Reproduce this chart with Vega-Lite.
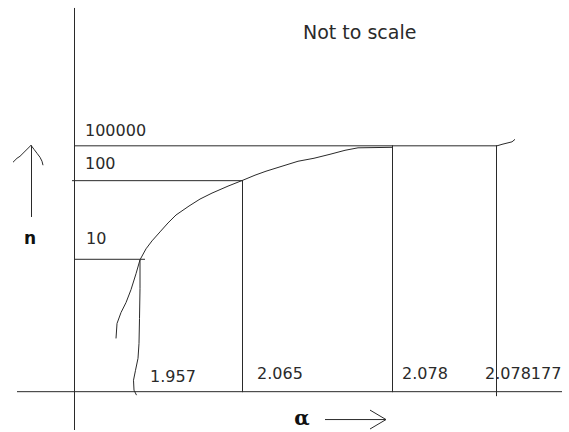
{
  "$schema": "https://vega.github.io/schema/vega-lite/v6.json",
  "width": 569,
  "height": 432,
  "padding": 0,
  "autosize": {"type": "fit", "contains": "padding"},
  "background": "white",
  "config": {"view": {"stroke": null}},
  "datasets": {
    "paths": [
      {"id": "yaxis", "i": 0, "x": 74.5, "y": 8},
      {"id": "yaxis", "i": 1, "x": 74.5, "y": 432},
      {"id": "xaxis", "i": 0, "x": 17, "y": 393.5},
      {"id": "xaxis", "i": 1, "x": 562, "y": 393.5},
      {"id": "h100000", "i": 0, "x": 74, "y": 146.5},
      {"id": "h100000", "i": 1, "x": 497, "y": 146.5},
      {"id": "h100000", "i": 2, "x": 502, "y": 145},
      {"id": "h100000", "i": 3, "x": 508, "y": 143.5},
      {"id": "h100000", "i": 4, "x": 512, "y": 142.5},
      {"id": "h100000", "i": 5, "x": 515, "y": 140},
      {"id": "h100", "i": 0, "x": 72, "y": 181.5},
      {"id": "h100", "i": 1, "x": 243, "y": 181.5},
      {"id": "h10", "i": 0, "x": 75, "y": 260.5},
      {"id": "h10", "i": 1, "x": 145, "y": 260.5},
      {"id": "v1957", "i": 0, "x": 140, "y": 261},
      {"id": "v1957", "i": 1, "x": 140, "y": 290},
      {"id": "v1957", "i": 2, "x": 139.5, "y": 320},
      {"id": "v1957", "i": 3, "x": 139, "y": 345},
      {"id": "v1957", "i": 4, "x": 138, "y": 360},
      {"id": "v1957", "i": 5, "x": 135.5, "y": 372},
      {"id": "v1957", "i": 6, "x": 133.5, "y": 382},
      {"id": "v1957", "i": 7, "x": 134, "y": 392},
      {"id": "v1957", "i": 8, "x": 136.5, "y": 397},
      {"id": "v2065", "i": 0, "x": 242.5, "y": 181},
      {"id": "v2065", "i": 1, "x": 242.5, "y": 394},
      {"id": "v2078", "i": 0, "x": 392.5, "y": 146},
      {"id": "v2078", "i": 1, "x": 392.5, "y": 394},
      {"id": "v2078177", "i": 0, "x": 496.5, "y": 146},
      {"id": "v2078177", "i": 1, "x": 496.5, "y": 398},
      {"id": "curve", "i": 0, "x": 116, "y": 340},
      {"id": "curve", "i": 1, "x": 117, "y": 325},
      {"id": "curve", "i": 2, "x": 121, "y": 314},
      {"id": "curve", "i": 3, "x": 126, "y": 304},
      {"id": "curve", "i": 4, "x": 131, "y": 291},
      {"id": "curve", "i": 5, "x": 136, "y": 275},
      {"id": "curve", "i": 6, "x": 140, "y": 261},
      {"id": "curve", "i": 7, "x": 146, "y": 250},
      {"id": "curve", "i": 8, "x": 152, "y": 242},
      {"id": "curve", "i": 9, "x": 160, "y": 233},
      {"id": "curve", "i": 10, "x": 168, "y": 224},
      {"id": "curve", "i": 11, "x": 176, "y": 216},
      {"id": "curve", "i": 12, "x": 189, "y": 207},
      {"id": "curve", "i": 13, "x": 200, "y": 200},
      {"id": "curve", "i": 14, "x": 212, "y": 194},
      {"id": "curve", "i": 15, "x": 228, "y": 187},
      {"id": "curve", "i": 16, "x": 243, "y": 181},
      {"id": "curve", "i": 17, "x": 255, "y": 176},
      {"id": "curve", "i": 18, "x": 266, "y": 172},
      {"id": "curve", "i": 19, "x": 282, "y": 167},
      {"id": "curve", "i": 20, "x": 298, "y": 162},
      {"id": "curve", "i": 21, "x": 314, "y": 159},
      {"id": "curve", "i": 22, "x": 330, "y": 155},
      {"id": "curve", "i": 23, "x": 345, "y": 151},
      {"id": "curve", "i": 24, "x": 358, "y": 148.5},
      {"id": "curve", "i": 25, "x": 392, "y": 148},
      {"id": "nshaft", "i": 0, "x": 31.5, "y": 218},
      {"id": "nshaft", "i": 1, "x": 31.5, "y": 146},
      {"id": "nhead", "i": 0, "x": 13, "y": 163},
      {"id": "nhead", "i": 1, "x": 17, "y": 159},
      {"id": "nhead", "i": 2, "x": 20, "y": 157},
      {"id": "nhead", "i": 3, "x": 23, "y": 154},
      {"id": "nhead", "i": 4, "x": 27, "y": 150},
      {"id": "nhead", "i": 5, "x": 31, "y": 146},
      {"id": "nhead", "i": 6, "x": 34, "y": 150},
      {"id": "nhead", "i": 7, "x": 37, "y": 154},
      {"id": "nhead", "i": 8, "x": 40, "y": 158},
      {"id": "nhead", "i": 9, "x": 42, "y": 162},
      {"id": "nhead", "i": 10, "x": 43, "y": 166},
      {"id": "ashaft", "i": 0, "x": 325, "y": 421.5},
      {"id": "ashaft", "i": 1, "x": 386, "y": 421.5},
      {"id": "ahead", "i": 0, "x": 370, "y": 412},
      {"id": "ahead", "i": 1, "x": 386, "y": 421.5},
      {"id": "ahead", "i": 2, "x": 370, "y": 431}
    ],
    "labels": [
      {"kind": "title", "text": "Not to scale", "x": 303, "y": 33},
      {"kind": "num", "text": "100000", "x": 85, "y": 132},
      {"kind": "num", "text": "100", "x": 85, "y": 165},
      {"kind": "num", "text": "10", "x": 86, "y": 240},
      {"kind": "num", "text": "1.957", "x": 150, "y": 379},
      {"kind": "num", "text": "2.065", "x": 257, "y": 376},
      {"kind": "num", "text": "2.078", "x": 402, "y": 376},
      {"kind": "num", "text": "2.078177", "x": 485, "y": 376},
      {"kind": "n", "text": "n", "x": 30, "y": 240},
      {"kind": "alpha", "text": "α", "x": 302, "y": 421}
    ]
  },
  "layer": [
    {
      "data": {"name": "paths"},
      "mark": {"type": "line", "color": "#2a2a2a", "strokeWidth": 1},
      "encoding": {
        "x": {"field": "x", "type": "quantitative", "scale": {"domain": [0, 569], "nice": false, "zero": false}, "axis": null},
        "y": {"field": "y", "type": "quantitative", "scale": {"domain": [0, 432], "nice": false, "zero": false, "reverse": true}, "axis": null},
        "detail": {"field": "id"},
        "order": {"field": "i", "type": "quantitative"}
      }
    },
    {
      "data": {"name": "labels"},
      "transform": [{"filter": "datum.kind === 'num'"}],
      "mark": {"type": "text", "align": "left", "baseline": "middle", "font": "DejaVu Sans", "fontSize": 16, "color": "#2a2a2a"},
      "encoding": {
        "x": {"field": "x", "type": "quantitative"},
        "y": {"field": "y", "type": "quantitative"},
        "text": {"field": "text"}
      }
    },
    {
      "data": {"name": "labels"},
      "transform": [{"filter": "datum.kind === 'title'"}],
      "mark": {"type": "text", "align": "left", "baseline": "middle", "font": "DejaVu Sans", "fontSize": 19, "color": "#2a2a2a"},
      "encoding": {
        "x": {"field": "x", "type": "quantitative"},
        "y": {"field": "y", "type": "quantitative"},
        "text": {"field": "text"}
      }
    },
    {
      "data": {"name": "labels"},
      "transform": [{"filter": "datum.kind === 'n'"}],
      "mark": {"type": "text", "align": "center", "baseline": "middle", "font": "DejaVu Sans", "fontWeight": "bold", "fontSize": 17, "color": "#111"},
      "encoding": {
        "x": {"field": "x", "type": "quantitative"},
        "y": {"field": "y", "type": "quantitative"},
        "text": {"field": "text"}
      }
    },
    {
      "data": {"name": "labels"},
      "transform": [{"filter": "datum.kind === 'alpha'"}],
      "mark": {"type": "text", "align": "center", "baseline": "middle", "font": "DejaVu Serif", "fontWeight": "bold", "fontSize": 20, "color": "#111"},
      "encoding": {
        "x": {"field": "x", "type": "quantitative"},
        "y": {"field": "y", "type": "quantitative"},
        "text": {"field": "text"}
      }
    }
  ]
}
